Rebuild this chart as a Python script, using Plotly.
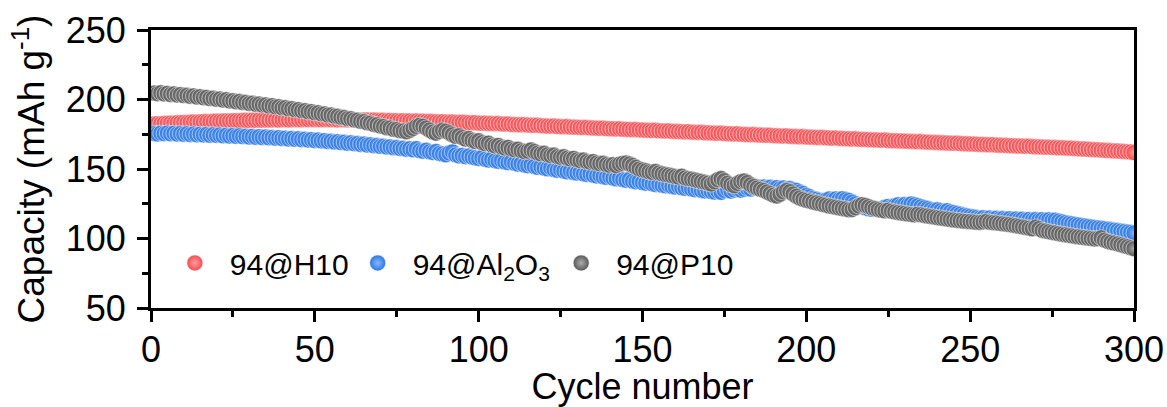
import plotly.graph_objects as go

cycles = list(range(1, 301))

cap_h10 = [
    182.4, 182.6, 182.5, 182.8, 182.9, 183.0, 182.9, 183.2, 183.3, 183.5,
    183.4, 183.6, 183.8, 183.7, 183.9, 184.0, 184.1, 184.0, 184.3, 184.4,
    184.3, 184.5, 184.6, 184.5, 184.7, 184.8, 184.7, 184.9, 185.0, 184.9,
    185.1, 185.0, 185.2, 185.1, 185.3, 185.2, 185.3, 185.4, 185.2, 185.4,
    185.5, 185.3, 185.4, 185.6, 185.5, 185.4, 185.6, 185.5, 185.7, 185.5,
    185.6, 185.4, 185.5, 185.6, 185.4, 185.5, 185.3, 185.5, 185.4, 185.3,
    185.4, 185.2, 185.3, 185.1, 185.3, 185.2, 185.0, 185.2, 185.1, 184.9,
    185.0, 184.8, 184.9, 184.7, 184.8, 184.6, 184.7, 184.5, 184.6, 184.4,
    184.5, 184.3, 184.4, 184.2, 184.1, 184.2, 184.0, 183.9, 184.0, 183.8,
    183.7, 183.8, 183.6, 183.5, 183.6, 183.4, 183.3, 183.2, 183.3, 183.0,
    182.9, 183.0, 182.8, 182.7, 182.6, 182.7, 182.4, 182.3, 182.4, 182.1,
    182.0, 181.9, 181.8, 181.9, 181.6, 181.5, 181.4, 181.5, 181.2, 181.0,
    180.9, 180.8, 180.9, 180.6, 180.5, 180.4, 180.5, 180.2, 180.1, 180.0,
    179.9, 179.8, 179.9, 179.6, 179.5, 179.4, 179.3, 179.4, 179.1, 179.0,
    178.9, 178.8, 178.9, 178.6, 178.5, 178.4, 178.3, 178.4, 178.1, 178.0,
    177.9, 177.8, 177.7, 177.8, 177.5, 177.4, 177.3, 177.4, 177.1, 177.0,
    176.9, 176.8, 176.7, 176.8, 176.5, 176.4, 176.3, 176.4, 176.1, 176.0,
    175.9, 175.8, 175.7, 175.8, 175.5, 175.4, 175.3, 175.2, 175.3, 175.0,
    174.9, 174.8, 174.7, 174.8, 174.5, 174.4, 174.3, 174.2, 174.3, 174.0,
    173.9, 173.8, 173.7, 173.8, 173.5, 173.4, 173.3, 173.2, 173.3, 173.0,
    172.9, 172.8, 172.7, 172.6, 172.7, 172.4, 172.3, 172.2, 172.3, 172.0,
    171.9, 171.8, 171.7, 171.6, 171.7, 171.4, 171.3, 171.2, 171.1, 171.0,
    170.9, 170.8, 170.7, 170.8, 170.5, 170.4, 170.3, 170.2, 170.1, 170.0,
    169.9, 169.8, 169.7, 169.6, 169.7, 169.4, 169.3, 169.2, 169.1, 169.0,
    168.9, 168.8, 168.7, 168.6, 168.5, 168.6, 168.3, 168.2, 168.1, 168.0,
    167.9, 167.8, 167.7, 167.6, 167.5, 167.4, 167.5, 167.2, 167.1, 167.0,
    166.9, 166.8, 166.7, 166.6, 166.5, 166.4, 166.3, 166.4, 166.1, 166.0,
    165.9, 165.8, 165.7, 165.6, 165.5, 165.4, 165.3, 165.2, 165.1, 165.0,
    164.9, 164.7, 164.6, 164.4, 164.3, 164.2, 164.0, 163.9, 163.8, 163.6,
    163.5, 163.3, 163.2, 163.0, 162.9, 162.7, 162.6, 162.4, 162.2, 161.8,
]

cap_al2o3 = [
    175.6, 175.2, 175.8, 175.4, 175.9, 175.3, 175.7, 175.1, 175.5, 175.0,
    175.4, 174.8, 175.2, 174.6, 175.0, 174.5, 174.9, 174.3, 174.7, 174.2,
    174.5, 173.9, 174.3, 173.7, 174.1, 173.5, 173.9, 173.3, 173.6, 173.0,
    173.4, 172.8, 173.2, 172.6, 173.0, 172.4, 172.7, 172.2, 172.5, 171.9,
    172.2, 171.6, 172.0, 171.4, 171.7, 171.1, 171.4, 170.8, 171.1, 170.5,
    170.8, 170.2, 170.4, 169.8, 170.0, 169.4, 169.6, 169.0, 169.2, 168.5,
    168.8, 168.2, 168.3, 167.7, 167.9, 167.2, 167.4, 166.8, 166.9, 166.3,
    166.4, 165.8, 165.9, 165.3, 165.4, 164.8, 164.9, 164.2, 164.5, 163.8,
    164.6, 163.2, 162.8, 163.5, 162.4, 161.9, 162.6, 161.2, 160.8, 160.2,
    161.5, 162.3, 160.1, 159.4, 159.8, 158.9, 159.3, 158.5, 158.0, 157.6,
    158.2, 157.0, 156.5, 157.1, 156.0, 155.6, 156.2, 155.0, 154.6, 155.3,
    154.1, 153.5, 153.9, 152.8, 152.4, 153.0, 151.8, 151.2, 151.7, 150.6,
    150.2, 150.8, 149.6, 149.1, 149.6, 148.5, 148.0, 148.6, 147.5, 147.1,
    147.6, 146.5, 146.1, 146.6, 145.5, 145.0, 145.4, 144.4, 144.0, 144.5,
    143.4, 143.0, 143.5, 142.4, 141.9, 142.3, 141.3, 140.8, 141.2, 140.2,
    139.8, 140.3, 139.3, 138.8, 139.2, 138.3, 137.9, 138.4, 137.4, 137.0,
    137.5, 136.5, 136.1, 136.6, 135.6, 135.1, 135.5, 134.6, 134.2, 134.7,
    133.8, 133.4, 134.0, 133.2, 134.5, 135.3, 134.1, 134.9, 135.6, 134.8,
    135.4, 136.2, 135.6, 136.5, 137.2, 136.4, 137.0, 136.3, 136.8, 136.0,
    136.6, 135.8, 136.3, 135.4, 135.9, 135.0, 134.6, 133.5, 132.4, 131.0,
    130.1, 128.8, 128.2, 127.5, 126.8, 127.6, 128.4, 127.8, 128.5, 127.9,
    128.6, 128.0, 127.4, 126.2, 125.0, 123.8, 122.9, 122.0, 121.4, 121.0,
    121.6, 120.8, 121.5, 122.4, 123.1, 122.6, 123.5, 124.2, 123.6, 124.4,
    124.0, 124.8, 124.2, 123.6, 122.8, 122.1, 121.5, 120.8, 120.3, 120.6,
    120.0, 119.4, 119.9, 119.1, 118.6, 118.0, 117.4, 116.8, 116.3, 115.9,
    115.5, 115.1, 114.6, 114.9, 114.3, 114.7, 114.1, 114.5, 113.9, 114.3,
    113.8, 114.2, 113.6, 114.0, 113.5, 113.9, 113.3, 113.7, 113.2, 113.6,
    113.1, 113.5, 113.0, 113.4, 112.9, 113.2, 112.5, 112.0, 111.4, 110.9,
    110.6, 110.1, 109.8, 109.4, 109.0, 108.7, 108.3, 107.9, 107.6, 107.3,
    107.0, 106.7, 106.4, 106.0, 105.7, 105.3, 105.0, 104.6, 104.3, 103.9,
]

cap_p10 = [
    204.6, 204.2, 204.8, 204.0, 204.4, 203.6, 204.0, 203.2, 203.5, 202.8,
    203.0, 202.3, 202.6, 201.8, 202.0, 201.3, 201.5, 200.7, 200.9, 200.2,
    200.3, 199.6, 199.8, 199.0, 199.1, 198.4, 198.6, 197.8, 197.9, 197.2,
    197.3, 196.6, 196.7, 196.0, 196.1, 195.3, 195.5, 194.7, 194.8, 194.0,
    194.1, 193.3, 193.4, 192.6, 192.7, 191.9, 191.9, 191.1, 191.2, 190.4,
    190.4, 189.6, 189.6, 188.8, 188.8, 188.0, 187.9, 187.1, 187.0, 186.2,
    186.1, 185.3, 185.1, 184.3, 184.1, 183.2, 183.0, 182.1, 181.8, 180.9,
    180.6, 179.7, 179.5, 178.6, 178.4, 177.6, 177.3, 176.8, 177.9, 179.2,
    180.6, 181.4, 180.8, 179.5, 178.0, 176.6, 175.8, 176.9, 177.8, 177.2,
    176.0, 174.6, 173.5, 173.9, 172.6, 171.5, 171.9, 170.6, 169.8, 170.3,
    169.0, 168.2, 168.6, 167.3, 166.6, 166.9, 165.8, 165.1, 165.5, 164.4,
    163.8, 164.2, 163.1, 162.5, 162.9, 163.7, 162.6, 161.5, 160.9, 161.3,
    160.2, 159.6, 160.0, 158.9, 158.4, 158.8, 157.8, 157.2, 157.6, 156.6,
    156.0, 156.4, 155.4, 154.9, 155.3, 154.3, 153.8, 154.1, 153.2, 152.7,
    153.1, 152.4, 153.4, 154.0, 154.3, 153.6, 152.5, 151.2, 150.0, 149.3,
    148.7, 148.0, 147.6, 148.2, 147.1, 146.5, 146.0, 145.6, 145.1, 144.6,
    144.2, 144.8, 143.6, 143.0, 142.7, 142.1, 141.5, 141.0, 140.4, 139.8,
    139.2, 140.8, 142.3, 143.1, 141.6, 139.8, 138.7, 138.0, 139.6, 140.9,
    141.3, 140.2, 138.6, 137.4, 136.3, 135.4, 134.6, 133.5, 132.3, 131.2,
    130.6, 131.8, 133.5, 134.6, 133.7, 132.0, 130.4, 129.1, 128.2, 127.5,
    126.9, 126.2, 125.6, 125.1, 124.5, 124.0, 123.4, 123.0, 122.5, 122.0,
    121.6, 121.2, 120.7, 120.9, 122.1, 123.4, 124.3, 123.8, 122.9, 122.0,
    121.4, 120.8, 120.3, 119.9, 120.4, 119.6, 119.1, 118.7, 118.3, 118.0,
    117.6, 117.3, 117.0, 117.5, 117.1, 116.6, 116.2, 115.8, 115.4, 115.0,
    114.7, 114.3, 114.0, 113.6, 113.3, 113.0, 112.8, 112.5, 112.3, 112.1,
    111.9, 111.7, 111.6, 111.9, 112.3, 111.7, 111.4, 111.2, 110.9, 110.6,
    110.3, 110.0, 109.6, 109.2, 108.8, 108.3, 107.9, 107.4, 107.0, 108.2,
    107.1, 105.8, 105.4, 104.9, 104.4, 104.0, 103.5, 103.1, 102.7, 102.3,
    101.9, 101.5, 101.2, 100.9, 100.6, 100.3, 100.0, 99.7, 99.9, 100.5,
    98.8, 97.9, 97.3, 96.7, 96.1, 95.5, 94.8, 94.1, 93.4, 92.7,
]

series_names = ["94@H10", "94@Al<sub>2</sub>O<sub>3</sub>", "94@P10"]
series_values = [cap_h10, cap_al2o3, cap_p10]
series_colors = ["#F44A4F", "#2A76E2", "#575757"]
series_highlights = ["#FF9C9C", "#86B8FF", "#ADADAD"]
legend_ids = ["legend", "legend2", "legend3"]
legend_x = [0.009, 0.195, 0.402]

x_ticks = [0, 50, 100, 150, 200, 250, 300]
y_ticks = [50, 100, 150, 200, 250]

FONT = "Liberation Sans, Arial, sans-serif"

fig = go.Figure()
for name, vals, col, hl, lg in zip(series_names, series_values, series_colors,
                                   series_highlights, legend_ids):
    fig.add_trace(go.Scatter(
        x=cycles, y=vals, mode="markers", name=name, legend=lg, showlegend=True,
        marker=dict(size=16, color=col,
                    line=dict(color="rgba(255,255,255,0.65)", width=0.8),
                    gradient=dict(type="radial", color=hl)),
    ))

leg_common = dict(orientation="h", yanchor="middle", y=0.162, xanchor="left",
                  itemwidth=60, bgcolor="rgba(0,0,0,0)",
                  font=dict(family=FONT, size=30, color="black"))

fig.update_layout(
    width=1167, height=407,
    margin=dict(l=151, r=33, t=30, b=99, autoexpand=False),
    paper_bgcolor="white", plot_bgcolor="white",
    font=dict(family=FONT, color="black"),
    showlegend=True,
    legend=dict(x=legend_x[0], **leg_common),
    legend2=dict(x=legend_x[1], **leg_common),
    legend3=dict(x=legend_x[2], **leg_common),
    xaxis=dict(
        range=[0, 300], tickvals=x_ticks, showgrid=False, zeroline=False,
        showline=True, linecolor="black", linewidth=3, mirror=True,
        ticks="outside", ticklen=11, tickwidth=3, tickcolor="black",
        tickfont=dict(family=FONT, size=36, color="black"),
        ticklabelstandoff=-3, automargin=False,
        minor=dict(dtick=25, tick0=0, ticks="outside", ticklen=6, tickwidth=3,
                   tickcolor="black", showgrid=False),
        title=dict(text="Cycle number", font=dict(family=FONT, size=36, color="black"),
                   standoff=0),
    ),
    yaxis=dict(
        range=[50, 250], tickvals=y_ticks, showgrid=False, zeroline=False,
        showline=True, linecolor="black", linewidth=3, mirror=True,
        ticks="outside", ticklen=11, tickwidth=3, tickcolor="black",
        tickfont=dict(family=FONT, size=36, color="black"),
        ticklabelstandoff=4, automargin=False,
        minor=dict(dtick=25, tick0=0, ticks="outside", ticklen=6, tickwidth=3,
                   tickcolor="black", showgrid=False),
        title=dict(text="Capacity (mAh g<sup>-1</sup>)",
                   font=dict(family=FONT, size=37, color="black"), standoff=10),
    ),
)

fig.write_html("out.html")
